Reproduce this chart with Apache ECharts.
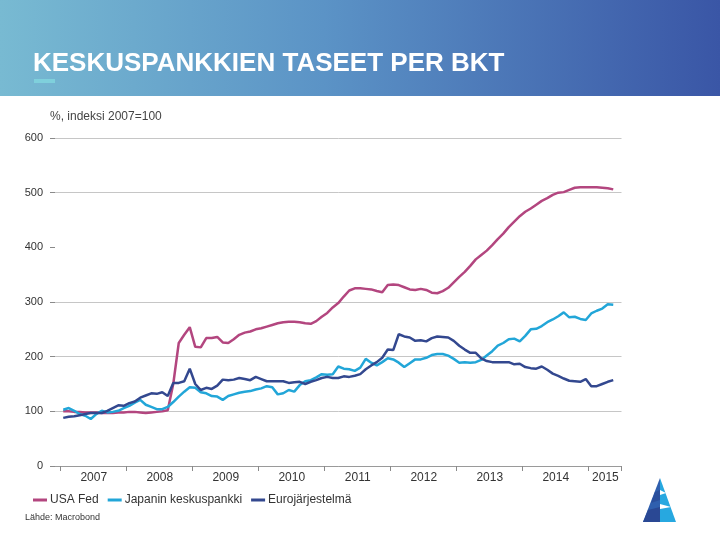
<!DOCTYPE html>
<html>
<head>
<meta charset="utf-8">
<script src="https://cdn.jsdelivr.net/npm/echarts@6/dist/echarts.min.js"></script>
<style>
html,body{margin:0;padding:0;background:#fff;}
#chart{width:720px;height:540px;}
</style>
</head>
<body>
<div id="chart"></div>
<script>
// ---- data (monthly, Jan 2007 – May 2015) ----
const firstYear = 2007;
const lastYear = 2015;
const seriesNames = ['USA Fed', 'Japanin keskuspankki', 'Eurojärjestelmä'];
const usaFed = [
  100,100,99,99,98,98,98,97,97,97,98,98,
  99,99,98,97,98,99,100,102,150,225,240,254,
  218,217,234,234,236,226,225,232,240,244,246,250,
  252,255,258,261,263,264,264,263,261,260,265,273,
  280,290,298,310,321,325,325,324,323,320,318,331,
  332,331,327,323,322,324,322,317,316,320,326,336,
  346,355,366,378,386,394,404,415,425,437,447,457,
  465,471,478,485,490,496,500,501,505,509,510,510,
  510,510,509,508,506
];
const japan = [
  103,106,101,95,92,86,95,101,98,99,101,106,
  110,116,121,112,108,104,104,108,117,127,136,144,
  143,135,133,128,127,121,128,131,134,136,137,140,
  142,146,144,131,133,139,136,148,155,157,162,168,
  167,168,182,178,177,174,180,196,189,184,190,197,
  195,189,181,188,195,195,198,203,205,205,202,196,
  189,190,189,190,194,202,210,220,225,232,233,228,
  238,250,251,256,263,268,274,281,272,273,269,267,
  279,284,288,296,295
];
const euro = [
  88,90,91,93,95,97,97,97,101,106,111,110,
  115,118,125,129,133,132,135,128,152,152,155,178,
  150,139,143,141,147,158,157,158,161,159,157,163,
  159,155,155,155,155,152,153,154,150,154,157,161,
  163,161,161,164,163,165,168,177,184,190,198,213,
  212,241,237,235,229,230,228,234,237,236,235,229,
  220,213,207,207,197,192,190,190,190,190,186,187,
  181,179,178,182,176,169,165,160,156,155,154,159,
  146,146,150,154,157
];
const yTicks = [0, 100, 200, 300, 400, 500, 600];
const colors = ['#b3467f', '#22a6d8', '#33488f'];

// category months: Dec 2006 .. Jun 2015
const categories = ['2006-12'];
for (let y = firstYear; y <= lastYear; y++) {
  for (let m = 1; m <= 12; m++) {
    if (y === lastYear && m > 6) break;
    categories.push(y + '-' + String(m).padStart(2, '0'));
  }
}
const pad = arr => [null].concat(arr);

const chart = echarts.init(document.getElementById('chart'), null, {renderer: 'canvas'});
const gridColor = '#c6c6c6';
const option = {
  animation: false,
  backgroundColor: '#ffffff',
  textStyle: {fontFamily: 'Liberation Sans, Arial, sans-serif'},
  graphic: [
    {type: 'rect', shape: {x: 0, y: 0, width: 720, height: 96}, z: 0,
      style: {fill: new echarts.graphic.LinearGradient(0, 0, 1, 0, [
        {offset: 0, color: '#78bad2'},
        {offset: 0.45, color: '#5b93c6'},
        {offset: 1, color: '#3a56a6'}
      ])}},
    {type: 'text', left: 33, top: 51, z: 2,
      style: {text: 'KESKUSPANKKIEN TASEET PER BKT', fill: '#ffffff',
        font: 'bold 26px "Liberation Sans", Arial, sans-serif'}},
    {type: 'rect', shape: {x: 34, y: 79, width: 21, height: 4}, z: 2, style: {fill: '#7fd0dc'}},
    {type: 'text', left: 50, top: 111, z: 2,
      style: {text: '%, indeksi 2007=100', fill: '#444444',
        font: '12px "Liberation Sans", Arial, sans-serif'}},
    {type: 'text', left: 25, top: 513, z: 2,
      style: {text: 'Lähde: Macrobond', fill: '#333333',
        font: '9px "Liberation Sans", Arial, sans-serif'}},
    // logo
    {type: 'polygon', z: 2, shape: {points: [[660, 478], [660, 522], [643, 522]]}, style: {fill: '#2f5fae'}},
    {type: 'polygon', z: 2, shape: {points: [[660, 478], [676, 522], [660, 522]]}, style: {fill: '#27a8e0'}},
    {type: 'polygon', z: 3, shape: {points: [[655, 492], [660, 490], [660, 500], [651, 503]]}, style: {fill: '#2a4f9c'}},
    {type: 'polygon', z: 3, shape: {points: [[648, 510], [660, 507], [660, 522], [643, 522]]}, style: {fill: '#2a4894'}},
    {type: 'polygon', z: 3, shape: {points: [[660, 490], [666, 493], [660, 495]]}, style: {fill: '#ffffff'}},
    {type: 'polygon', z: 3, shape: {points: [[660, 504], [671, 507], [660, 509]]}, style: {fill: '#ffffff'}}
  ],
  legend: {
    left: 28, top: 489,
    icon: 'rect', itemWidth: 14, itemHeight: 3, itemGap: 9,
    textStyle: {fontSize: 12, color: '#333333', padding: [0, 0, 0, -2]},
    data: seriesNames
  },
  grid: {left: 55, right: 98.5, top: 138, bottom: 74},
  xAxis: {
    type: 'category',
    data: categories,
    boundaryGap: true,
    axisLine: {show: true, lineStyle: {color: '#9a9a9a', width: 1}},
    axisTick: {show: true, length: 5, lineStyle: {color: '#8a8a8a'},
      interval: (i, v) => v.endsWith('-01')},
    axisLabel: {
      interval: (i, v) => v.endsWith('-06'),
      formatter: v => v.slice(0, 4),
      alignMaxLabel: 'right',
      color: '#333333', fontSize: 12, margin: 6, padding: [0, 0, 0, 6]
    },
    splitLine: {show: false}
  },
  yAxis: {
    type: 'value',
    min: yTicks[0], max: yTicks[yTicks.length - 1], interval: 100,
    axisLine: {show: false},
    axisTick: {show: true, length: 5, lineStyle: {color: '#8a8a8a'}},
    axisLabel: {color: '#333333', fontSize: 11, margin: 12},
    splitLine: {show: true, lineStyle: {color: [gridColor, gridColor, gridColor, gridColor, 'rgba(0,0,0,0)', gridColor, gridColor], width: 1}}
  },
  series: [
    {name: seriesNames[0], type: 'line', data: pad(usaFed), color: colors[0],
      showSymbol: false, lineStyle: {width: 2.5, color: colors[0]}},
    {name: seriesNames[1], type: 'line', data: pad(japan), color: colors[1],
      showSymbol: false, lineStyle: {width: 2.5, color: colors[1]}},
    {name: seriesNames[2], type: 'line', data: pad(euro), color: colors[2],
      showSymbol: false, lineStyle: {width: 2.5, color: colors[2]}}
  ]
};
chart.setOption(option);
</script>
</body>
</html>
